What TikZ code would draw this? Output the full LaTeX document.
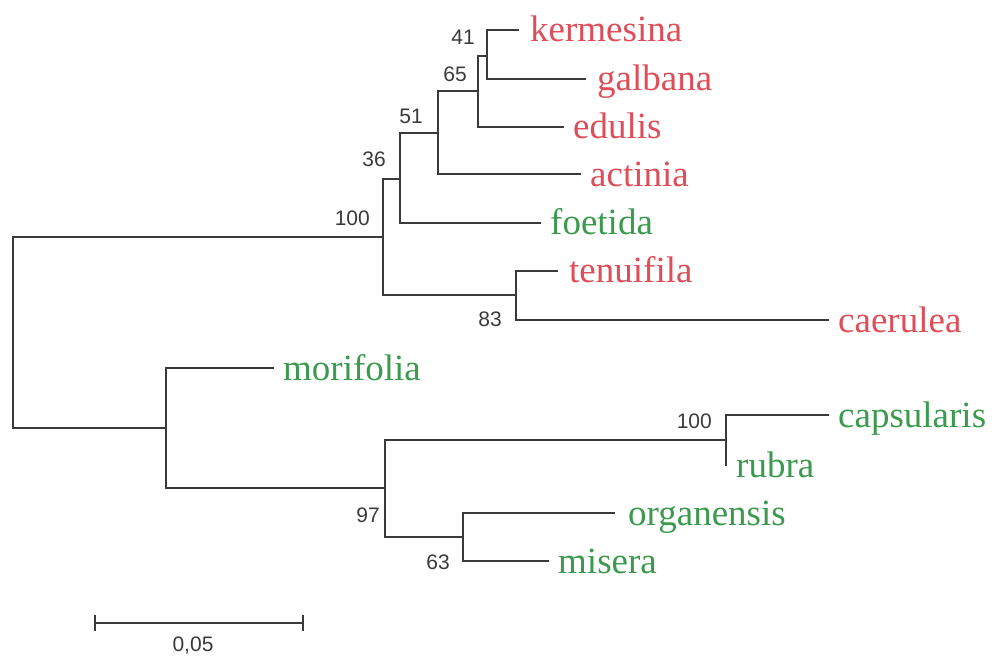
\documentclass[tikz,border=0pt]{standalone}
\usepackage{fontspec}
\setmainfont{Liberation Serif}
\newfontfamily\numfont{Liberation Sans}
\definecolor{taxred}{HTML}{DE4E58}
\definecolor{taxgreen}{HTML}{3C9A4E}
\definecolor{branch}{HTML}{3A3A3A}
\definecolor{numgray}{HTML}{3A3A3A}
\begin{document}
\begin{tikzpicture}[x=1pt,y=-1pt,
  br/.style={draw=branch,line width=1.2pt,line cap=rect},
  taxon/.style={anchor=base west,inner sep=0pt,font=\fontsize{37}{40}\selectfont},
  red/.style={taxon,text=taxred},
  grn/.style={taxon,text=taxgreen},
  boot/.style={anchor=east,inner sep=0pt,text=numgray,font=\numfont\fontsize{21}{24}\selectfont}]
\useasboundingbox (0,0) rectangle (997,658);
% internal nodes
\coordinate (R1) at (13,237); \coordinate (R2) at (13,428);
\coordinate (A) at (383,237); \coordinate (A1) at (383,179); \coordinate (A2) at (383,295);
\coordinate (B) at (400,179); \coordinate (B1) at (400,133); \coordinate (B2) at (400,223);
\coordinate (C) at (438,133); \coordinate (C1) at (438,91); \coordinate (C2) at (438,174);
\coordinate (D) at (478,91); \coordinate (D1) at (478,56); \coordinate (D2) at (478,127);
\coordinate (E) at (487,56); \coordinate (E1) at (487,30); \coordinate (E2) at (487,79);
\coordinate (F) at (516,295); \coordinate (F1) at (516,271); \coordinate (F2) at (516,320);
\coordinate (M) at (166,428); \coordinate (M1) at (166,368); \coordinate (M2) at (166,488);
\coordinate (G) at (385,488); \coordinate (G1) at (385,440); \coordinate (G2) at (385,537);
\coordinate (H) at (726,440); \coordinate (H1) at (726,415); \coordinate (H2) at (726,465);
\coordinate (K) at (463,537); \coordinate (K1) at (463,513); \coordinate (K2) at (463,561);
% leaf tips
\coordinate (kerT) at (518,30);
\coordinate (galT) at (585,79);
\coordinate (eduT) at (563,127);
\coordinate (actT) at (580,174);
\coordinate (foeT) at (540,223);
\coordinate (tenT) at (557,271);
\coordinate (caeT) at (828,320);
\coordinate (morT) at (273,368);
\coordinate (capT) at (828,415);
\coordinate (orgT) at (614,513);
\coordinate (misT) at (548,561);
% branches
\draw[br] (A) -- (R1) -- (R2) -- (M);
\draw[br] (A1) -- (A2);
\draw[br] (A1) -- (B); \draw[br] (B1) -- (B2);
\draw[br] (B1) -- (C); \draw[br] (C1) -- (C2);
\draw[br] (C1) -- (D); \draw[br] (D1) -- (D2);
\draw[br] (D1) -- (E); \draw[br] (E1) -- (E2);
\draw[br] (E1) -- (kerT); \draw[br] (E2) -- (galT);
\draw[br] (D2) -- (eduT); \draw[br] (C2) -- (actT);
\draw[br] (B2) -- (foeT);
\draw[br] (A2) -- (F); \draw[br] (F1) -- (F2);
\draw[br] (F1) -- (tenT); \draw[br] (F2) -- (caeT);
\draw[br] (M1) -- (M2);
\draw[br] (M1) -- (morT);
\draw[br] (M2) -- (G); \draw[br] (G1) -- (G2);
\draw[br] (G1) -- (H); \draw[br] (H1) -- (H2);
\draw[br] (H1) -- (capT);
\draw[br] (G2) -- (K); \draw[br] (K1) -- (K2);
\draw[br] (K1) -- (orgT); \draw[br] (K2) -- (misT);
% taxon labels
\node[red] (ker) at (530,42) {kermesina};
\node[red] (gal) at (597,91) {galbana};
\node[red] (edu) at (573,139) {edulis};
\node[red] (act) at (590,186) {actinia};
\node[grn] (foe) at (550,235) {foetida};
\node[red] (ten) at (569,283) {tenuifila};
\node[red] (cae) at (838,332) {caerulea};
\node[grn] (mor) at (283,380) {morifolia};
\node[grn] (cap) at (838,427) {capsularis};
\node[grn] (rub) at (736,477) {rubra};
\node[grn] (org) at (628,525) {organensis};
\node[grn] (mis) at (558,573) {misera};
% bootstrap values
\node[boot] (b41) at (475,37) {41};
\node[boot] (b65) at (467,74) {65};
\node[boot] (b51) at (423,116) {51};
\node[boot] (b36) at (386,159) {36};
\node[boot] (b100a) at (370,218) {100};
\node[boot] (b83) at (502,319) {83};
\node[boot] (b100b) at (712,421) {100};
\node[boot] (b97) at (380,515) {97};
\node[boot] (b63) at (450,562) {63};
% scale bar
\coordinate (s1) at (95,623); \coordinate (s2) at (303,623);
\draw[br,line cap=butt] (s1) -- (s2);
\draw[br,line cap=butt] ([yshift=-8]s1) -- ([yshift=8]s1);
\draw[br,line cap=butt] ([yshift=-8]s2) -- ([yshift=8]s2);
\node[inner sep=0pt,text=numgray,font=\numfont\fontsize{21}{24}\selectfont] (sc) at (193,646) {0,05};
\end{tikzpicture}
\end{document}
